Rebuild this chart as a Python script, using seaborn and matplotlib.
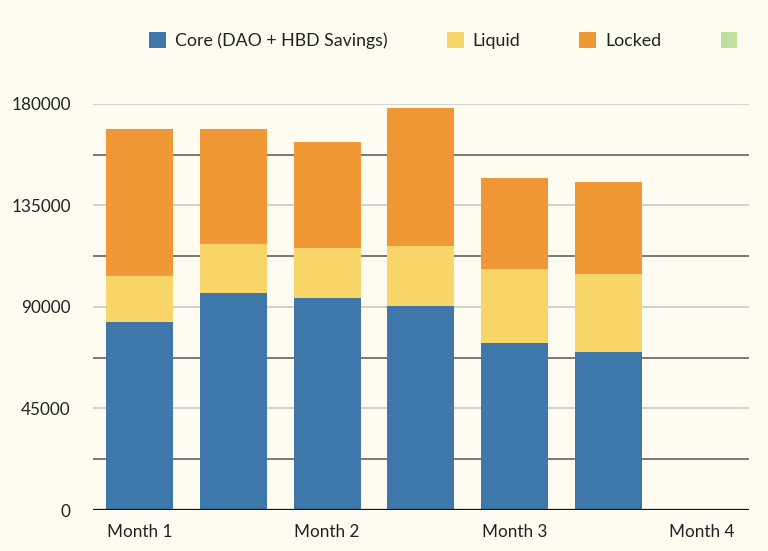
import matplotlib
matplotlib.use("Agg")
import matplotlib.pyplot as plt
import seaborn as sns
import pandas as pd
import numpy as np
from matplotlib.patches import Patch

periods = ["P1", "P2", "P3", "P4", "P5", "P6", "P7"]
tick_labels = ["Month 1", "", "Month 2", "", "Month 3", "", "Month 4"]
core = [83200, 96100, 93800, 90400, 73900, 70200, np.nan]
liquid = [20500, 21800, 22500, 26600, 33100, 34300, np.nan]
locked = [65100, 51000, 46700, 61400, 40100, 40900, np.nan]
series_names = ["Core (DAO + HBD Savings)", "Liquid", "Locked", ""]
colors = ["#3E78AB", "#F8D568", "#EF9835", "#BDE0A0"]

bg = "#FEFCF1"
sns.set_theme(style="white")
plt.rcParams["font.family"] = ["Lato", "DejaVu Sans"]

df = pd.DataFrame({"period": periods, "core": core, "liquid": liquid, "locked": locked})
df["cl"] = df["core"] + df["liquid"]
df["total"] = df["cl"] + df["locked"]

fig = plt.figure(figsize=(7.68, 5.51), dpi=100, facecolor=bg)
ax = fig.add_axes([0.121, 0.0744, 0.854, 0.7369])
ax.set_facecolor(bg)

for col, c in [("total", colors[2]), ("cl", colors[1]), ("core", colors[0])]:
    sns.barplot(data=df, x="period", y=col, color=c, width=0.715, ax=ax,
                saturation=1, edgecolor="none", linewidth=0, zorder=3)

ax.set_ylim(0, 180000)
ax.set_xlim(-0.5, 6.5)
major = [0, 45000, 90000, 135000, 180000]
ax.set_yticks(major)
ax.set_yticklabels([str(v) for v in major])
for v in [45000, 90000, 135000, 180000]:
    ax.axhline(v, color="#CFCFCA", lw=1.3, zorder=1)
for v in [22500, 67500, 112500, 157500]:
    ax.axhline(v, color="#555555", lw=1.1, zorder=1)
ax.axhline(0, color="#111111", lw=1.6, zorder=4)

ax.set_xticks(range(len(periods)))
ax.set_xticklabels(tick_labels)
ax.tick_params(axis="y", length=0, pad=16, labelsize=12.3, labelcolor="#222222")
ax.tick_params(axis="x", length=0, pad=10, labelsize=12.3, labelcolor="#222222")
ax.set_xlabel("")
ax.set_ylabel("")
for s in ax.spines.values():
    s.set_visible(False)

handles = [Patch(facecolor=c, edgecolor="none") for c in colors]
fig.legend(handles, series_names, loc="center", bbox_to_anchor=(0.583, 0.926),
           ncol=4, frameon=False, fontsize=12.8, handlelength=0.95, handleheight=0.95,
           handletextpad=0.5, columnspacing=3.33, labelcolor="#222222")

fig.savefig("out.png", dpi=100, facecolor=bg)
